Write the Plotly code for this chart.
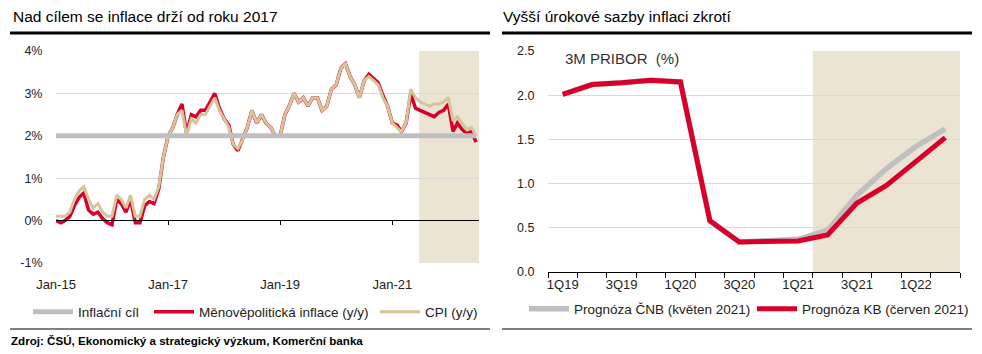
import plotly.graph_objects as go
import pandas as pd

# ---------------- Left chart data (monthly, Jan-15 .. Jul-22) ----------------
months = pd.date_range("2015-01-01", periods=91, freq="MS")

cpi = [0.1, 0.1, 0.1, 0.2, 0.5, 0.7, 0.8, 0.5, 0.3, 0.4, 0.2, 0.1,
       0.1, 0.6, 0.5, 0.3, 0.6, 0.1, 0.1, 0.5, 0.6, 0.5, 0.8, 1.5,
       2.0, 2.2, 2.5, 2.6, 2.0, 2.4, 2.3, 2.5, 2.5, 2.7, 2.9, 2.6,
       2.4, 2.2, 1.8, 1.7, 1.9, 2.2, 2.6, 2.3, 2.5, 2.3, 2.2, 2.0,
       2.0, 2.5, 2.7, 3.0, 2.8, 2.9, 2.7, 2.9, 2.9, 2.6, 2.7, 3.1,
       3.2, 3.6, 3.7, 3.4, 3.2, 2.9, 3.3, 3.4, 3.3, 3.2, 2.9, 2.7,
       2.3, 2.2, 2.1, 2.3, 3.1, 2.9, 2.8, 2.75, 2.7, 2.75, 2.75, 2.8,
       2.9, 2.35, 2.45, 2.3, 2.15, 2.2, 2.0]

core = [0.0, -0.05, 0.0, 0.1, 0.35, 0.55, 0.65, 0.25, 0.15, 0.2, 0.05, -0.05,
        -0.1, 0.5, 0.4, 0.2, 0.5, -0.05, -0.05, 0.35, 0.45, 0.4, 0.75, 1.5,
        2.0, 2.2, 2.5, 2.75, 2.05, 2.5, 2.45, 2.6, 2.6, 2.8, 3.0, 2.65,
        2.4, 2.25, 1.8, 1.65, 1.9, 2.2, 2.6, 2.3, 2.5, 2.3, 2.2, 2.0,
        2.0, 2.5, 2.7, 3.0, 2.8, 2.9, 2.7, 2.9, 2.9, 2.6, 2.7, 3.1,
        3.2, 3.6, 3.7, 3.4, 3.2, 2.9, 3.3, 3.45, 3.35, 3.25, 2.95, 2.7,
        2.3, 2.25, 2.1, 2.3, 3.0, 2.65, 2.6, 2.55, 2.5, 2.45, 2.55, 2.6,
        2.75, 2.1, 2.3, 2.15, 2.05, 2.1, 1.85]

target = [2.0] * len(months)

left_xtick_vals = ["2015-01-01", "2017-01-01", "2019-01-01", "2021-01-01"]
left_xtick_text = ["Jan-15", "Jan-17", "Jan-19", "Jan-21"]
left_ytick_vals = [-1, 0, 1, 2, 3, 4]
left_ytick_text = ["-1%", "0%", "1%", "2%", "3%", "4%"]
left_forecast_start = "2021-06-25"
left_range_end = "2022-07-20"

# ---------------- Right chart data (quarterly, 1Q19 .. 2Q22) ----------------
quarters = ["1Q19", "2Q19", "3Q19", "4Q19", "1Q20", "2Q20", "3Q20", "4Q20",
            "1Q21", "2Q21", "3Q21", "4Q21", "1Q22", "2Q22"]
pribor_cnb = [2.01, 2.12, 2.14, 2.17, 2.15, 0.58, 0.34, 0.35,
              0.37, 0.47, 0.87, 1.17, 1.42, 1.62]
pribor_kb = [2.01, 2.12, 2.14, 2.17, 2.15, 0.58, 0.34, 0.35,
             0.35, 0.42, 0.78, 0.98, 1.25, 1.52]
right_xtick_text = [q if i % 2 == 0 else "" for i, q in enumerate(quarters)]
right_forecast_start_index = 8.5

# ---------------- Styles ----------------
FONT = "Liberation Sans, Arial, sans-serif"
RED = "#d8002a"
TAN = "#d6c49b"
GREY = "#bfbfbf"
SHADE = "#ebe4d3"
GRID = "#d9d9d9"
TXT = "#222222"

W, H = 982, 354
def px(x):
    return x / W
def py(y):
    return 1 - y / H

fig = go.Figure()

# left chart traces
fig.add_trace(go.Scatter(x=months, y=target, mode="lines", name="Inflační cíl",
                         xaxis="x3", yaxis="y", showlegend=True,
                         line=dict(color=GREY, width=5), legend="legend"))
fig.add_trace(go.Scatter(x=months, y=core, mode="lines",
                         name="Měnověpolitická inflace (y/y)",
                         xaxis="x", yaxis="y",
                         line=dict(color=RED, width=3.5), legend="legend2"))
fig.add_trace(go.Scatter(x=months, y=cpi, mode="lines", name="CPI (y/y)",
                         xaxis="x", yaxis="y",
                         line=dict(color=TAN, width=3), legend="legend3"))

# right chart traces
fig.add_trace(go.Scatter(x=quarters, y=pribor_cnb, mode="lines",
                         name="Prognóza ČNB (květen 2021)",
                         xaxis="x2", yaxis="y2",
                         line=dict(color=GREY, width=5.5), legend="legend4"))
fig.add_trace(go.Scatter(x=quarters, y=pribor_kb, mode="lines",
                         name="Prognóza KB (červen 2021)",
                         xaxis="x2", yaxis="y2",
                         line=dict(color=RED, width=5), legend="legend5"))

left_dom_x = [px(56), px(479)]
left_dom_y = [py(263), py(51)]
right_dom_x = [px(548), px(960)]
right_dom_y = [py(272), py(51)]

tickfont = dict(family=FONT, size=13, color=TXT)

fig.update_layout(
    width=W, height=H,
    margin=dict(l=0, r=0, t=0, b=0, autoexpand=False),
    showlegend=True,
    paper_bgcolor="white", plot_bgcolor="rgba(0,0,0,0)",
    font=dict(family=FONT, color=TXT),
    xaxis=dict(domain=left_dom_x, anchor="y", type="date",
               range=["2015-01-01", left_range_end],
               tickmode="array", tickvals=left_xtick_vals, ticktext=left_xtick_text,
               showgrid=False, showline=False, zeroline=False,
               ticks="outside", ticklen=9, tickcolor="rgba(0,0,0,0)",
               tickfont=tickfont, automargin=False),
    xaxis3=dict(overlaying="x", anchor="free", position=py(220), type="date",
                range=["2015-01-01", left_range_end],
                tickmode="array", tickvals=left_xtick_vals[1:],
                showticklabels=False, showgrid=False, zeroline=False,
                showline=True, linecolor="black", linewidth=1.3,
                ticks="outside", ticklen=4, tickcolor="black", tickwidth=1.3),
    yaxis=dict(domain=left_dom_y, anchor="x", range=[-1, 4],
               tickmode="array", tickvals=left_ytick_vals, ticktext=left_ytick_text,
               showgrid=True, gridcolor=GRID, gridwidth=1, zeroline=False,
               showline=False, ticks="outside", ticklen=10, automargin=False,
               tickcolor="rgba(0,0,0,0)", tickfont=dict(family=FONT, size=12.5, color=TXT)),
    xaxis2=dict(domain=right_dom_x, anchor="y2", type="category",
                range=[-0.5, len(quarters) - 0.5],
                tickmode="array", tickvals=quarters, ticktext=right_xtick_text,
                tickson="boundaries", ticks="outside", ticklen=5, tickangle=0,
                tickcolor="black", tickwidth=1.3, automargin=False,
                showline=True, linecolor="black", linewidth=1.3,
                showgrid=False, zeroline=False, tickfont=tickfont),
    yaxis2=dict(domain=right_dom_y, anchor="x2", range=[0, 2.5], dtick=0.5,
                tickformat=".1f", showgrid=True, gridcolor=GRID, gridwidth=1,
                zeroline=False, showline=False, ticks="outside", ticklen=10,
                automargin=False,
                tickcolor="rgba(0,0,0,0)", tickfont=dict(family=FONT, size=12.5, color=TXT)),
)

legend_common = dict(orientation="h", xanchor="left", yanchor="middle",
                     bgcolor="rgba(0,0,0,0)", borderwidth=0, itemwidth=40,
                     font=dict(family=FONT, size=13.5, color=TXT))
fig.update_layout(
    legend=dict(x=px(28), y=py(312), **legend_common),
    legend2=dict(x=px(149), y=py(312), **legend_common),
    legend3=dict(x=px(375), y=py(312), **legend_common),
    legend4=dict(x=px(524), y=py(309), **legend_common),
    legend5=dict(x=px(752), y=py(309), **legend_common),
)

shapes = [
    # forecast shading
    dict(type="rect", xref="x", yref="y domain", x0=left_forecast_start, x1=left_range_end,
         y0=0, y1=1, fillcolor=SHADE, line=dict(width=0), layer="below"),
    dict(type="rect", xref="x2", yref="y2 domain", x0=right_forecast_start_index,
         x1=len(quarters) - 0.5, y0=0, y1=1, fillcolor=SHADE, line=dict(width=0), layer="below"),
    # title rules
    dict(type="line", xref="paper", yref="paper", x0=px(10), x1=px(490), y0=py(33), y1=py(33),
         line=dict(color="black", width=3)),
    dict(type="line", xref="paper", yref="paper", x0=px(502), x1=px(972), y0=py(33), y1=py(33),
         line=dict(color="black", width=3)),
    # bottom rules
    dict(type="line", xref="paper", yref="paper", x0=px(10), x1=px(490), y0=py(329), y1=py(329),
         line=dict(color="#808080", width=2)),
    dict(type="line", xref="paper", yref="paper", x0=px(502), x1=px(972), y0=py(329), y1=py(329),
         line=dict(color="#808080", width=2)),
]
fig.update_layout(shapes=shapes)

annotations = [
    dict(text="Nad cílem se inflace drží od roku 2017", xref="paper", yref="paper",
         x=px(11), y=py(16), xanchor="left", yanchor="middle", showarrow=False,
         font=dict(family=FONT, size=15.5, color="black")),
    dict(text="Vyšší úrokové sazby inflaci zkrotí", xref="paper", yref="paper",
         x=px(501), y=py(16), xanchor="left", yanchor="middle", showarrow=False,
         font=dict(family=FONT, size=15.5, color="black")),
    dict(text="3M PRIBOR  (%)", xref="paper", yref="paper",
         x=px(563), y=py(59), xanchor="left", yanchor="middle", showarrow=False,
         font=dict(family=FONT, size=15, color="#333333")),
    dict(text="<b>Zdroj: ČSÚ, Ekonomický a strategický výzkum, Komerční banka</b>",
         xref="paper", yref="paper", x=px(9), y=py(340), xanchor="left", yanchor="middle",
         showarrow=False, font=dict(family=FONT, size=11.6, color="black")),
]
fig.update_layout(annotations=annotations)

fig.write_html("out.html")
